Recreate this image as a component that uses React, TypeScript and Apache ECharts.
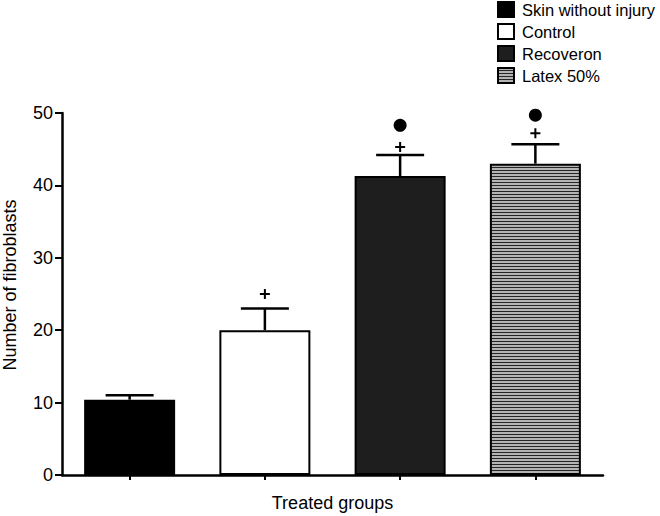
import React, { useEffect, useRef } from "react";
import * as echarts from "echarts";

const groups = ["Skin without injury", "Control", "Recoveron", "Latex 50%"];
const means = [10.4, 20.0, 41.3, 43.0];
const errors = [0.6, 3.0, 2.9, 2.7];
const plusMarks: (number | null)[] = [null, 25.0, 45.3, 47.2];
const dotMarks: (number | null)[] = [null, null, 48.3, 49.7];
const yTicks = [0, 10, 20, 30, 40, 50];

const FONT = "'Liberation Sans', Arial, sans-serif";

function makeStripe() {
  const c = document.createElement("canvas");
  c.width = 4;
  c.height = 3;
  const ctx = c.getContext("2d")!;
  ctx.fillStyle = "#b4b4b4";
  ctx.fillRect(0, 0, 4, 3);
  ctx.fillStyle = "#262626";
  ctx.fillRect(0, 2, 4, 1);
  return c;
}

export default function App() {
  const ref = useRef<HTMLDivElement>(null);
  useEffect(() => {
    if (!ref.current) return;
    const chart = echarts.init(ref.current, null, { renderer: "svg" });
    const stripe = makeStripe();
    const fills: any[] = [
      "#000000",
      "#ffffff",
      "#1e1e1e",
      { image: stripe, repeat: "repeat", imageWidth: 4, imageHeight: 3 },
    ];
    const barSeries = groups.map((g, i) => ({
      name: g,
      type: "bar",
      barWidth: 91,
      barGap: "-100%",
      data: means.map((v, j) => (j === i ? v : "-")),
      itemStyle: {
        color: fills[i],
        borderColor: "#000",
        borderWidth: 2,
      },
      z: 2,
    }));
    const option: any = {
      animation: false,
      backgroundColor: "#fff",
      textStyle: { fontFamily: FONT },
      grid: {
        left: 62,
        right: 57,
        top: 113,
        bottom: 41,
        containLabel: false,
        outerBoundsMode: "none",
      },
      legend: {
        orient: "vertical",
        left: 497,
        top: 1,
        padding: 0,
        itemWidth: 16,
        itemHeight: 15,
        itemGap: 5,
        icon: "rect",
        data: groups,
        textStyle: {
          fontSize: 16.5,
          lineHeight: 17,
          color: "#000",
          fontFamily: FONT,
          padding: [0, 0, 0, 3],
        },
        selectedMode: false,
      },
      xAxis: {
        type: "category",
        data: groups,
        name: "Treated groups",
        nameLocation: "middle",
        nameGap: 19,
        nameTextStyle: { fontSize: 18, color: "#000", fontFamily: FONT },
        axisLine: { lineStyle: { color: "#000", width: 2.5 } },
        axisTick: { show: true, length: 5, alignWithLabel: true, lineStyle: { color: "#000", width: 2 } },
        axisLabel: { show: false },
        splitLine: { show: false },
      },
      yAxis: {
        type: "value",
        min: yTicks[0],
        max: yTicks[yTicks.length - 1],
        interval: 10,
        name: "Number of fibroblasts",
        nameLocation: "middle",
        nameGap: 43,
        nameTextStyle: {
          fontSize: 18,
          color: "#000",
          fontFamily: FONT,
          padding: [0, 0, 0, 18],
        },
        axisLine: { show: true, lineStyle: { color: "#000", width: 2.5 } },
        axisTick: { show: true, length: 7, lineStyle: { color: "#000", width: 2 } },
        axisLabel: { fontSize: 18, color: "#000", margin: 9, fontFamily: FONT },
        splitLine: { show: false },
      },
      series: [
        ...barSeries,
        {
          type: "custom",
          name: "err",
          data: means.map((m, i) => [i, m, errors[i]]),
          z: 1,
          renderItem: (params: any, api: any) => {
            const x = api.value(0);
            const m = api.value(1);
            const e = api.value(2);
            const p0 = api.coord([x, m]);
            const p1 = api.coord([x, m + e]);
            const half = 24;
            const style = { stroke: "#000", lineWidth: 2.5 };
            return {
              type: "group",
              children: [
                { type: "line", shape: { x1: p0[0], y1: p0[1], x2: p1[0], y2: p1[1] }, style },
                { type: "line", shape: { x1: p1[0] - half, y1: p1[1], x2: p1[0] + half, y2: p1[1] }, style },
              ],
            };
          },
        },
        {
          type: "scatter",
          name: "plus",
          symbol: "path://M4,0H6V4H10V6H6V10H4V6H0V4H4Z",
          symbolSize: 10,
          itemStyle: { color: "#000", opacity: 1 },
          data: plusMarks.map((v) => (v == null ? "-" : v)),
          z: 3,
        },
        {
          type: "scatter",
          name: "dot",
          symbol: "circle",
          symbolSize: 13,
          itemStyle: { color: "#000", opacity: 1 },
          data: dotMarks.map((v) => (v == null ? "-" : v)),
          clip: false,
          z: 3,
        },
      ],
    };
    chart.setOption(option);
    return () => chart.dispose();
  }, []);
  return <div ref={ref} style={{ width: 660, height: 516, position: "absolute", left: 0, top: 0 }} />;
}
